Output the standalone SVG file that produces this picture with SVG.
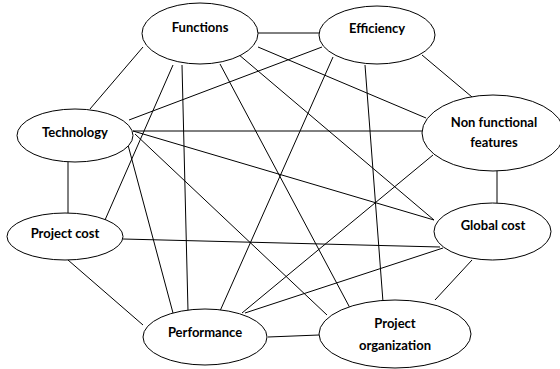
<svg xmlns="http://www.w3.org/2000/svg" width="560" height="369" viewBox="0 0 560 369">
<style>
.node ellipse{fill:#fff;stroke:#000;stroke-width:1}
.node text{font-family:Lato,"Liberation Sans",sans-serif;font-weight:bold;font-size:13px;text-anchor:middle;fill:#000}
#edges line{stroke:#000;stroke-width:1}
</style>
<rect width="560" height="369" fill="#fff"/>
<g id="edges">
<line x1="258" y1="33" x2="319" y2="33"/>
<line x1="143" y1="47" x2="90" y2="109"/>
<line x1="258" y1="47" x2="426" y2="118"/>
<line x1="238" y1="54" x2="434" y2="220"/>
<line x1="220" y1="64" x2="350" y2="308"/>
<line x1="173" y1="65" x2="105" y2="220"/>
<line x1="182" y1="65" x2="188" y2="311"/>
<line x1="129" y1="120" x2="322" y2="47"/>
<line x1="133" y1="131" x2="422" y2="131"/>
<line x1="133" y1="131" x2="434" y2="220"/>
<line x1="135" y1="134" x2="327" y2="315"/>
<line x1="128" y1="145" x2="173" y2="313"/>
<line x1="68" y1="162" x2="68" y2="213"/>
<line x1="422" y1="55" x2="472" y2="97"/>
<line x1="333" y1="57" x2="220" y2="311"/>
<line x1="365" y1="65" x2="383" y2="302"/>
<line x1="497" y1="170" x2="497" y2="203"/>
<line x1="433" y1="155" x2="242" y2="313"/>
<line x1="123" y1="239" x2="440" y2="247"/>
<line x1="245" y1="313" x2="443" y2="248"/>
<line x1="472" y1="260" x2="435" y2="300"/>
<line x1="268" y1="337" x2="319" y2="335"/>
<line x1="68" y1="260" x2="143" y2="325"/>
</g>
<g id="functions" class="node"><ellipse cx="200" cy="33.5" rx="58" ry="30.5"/><text x="200" y="32">Functions</text></g>
<g id="efficiency" class="node"><ellipse cx="377" cy="35" rx="58" ry="29"/><text x="377" y="33">Efficiency</text></g>
<g id="technology" class="node"><ellipse cx="75" cy="135.5" rx="58" ry="26.5"/><text x="75" y="137">Technology</text></g>
<g id="nonfunctional" class="node"><ellipse cx="493" cy="133" rx="71" ry="38"/><text x="494" y="127">Non functional</text><text x="494" y="147">features</text></g>
<g id="projectcost" class="node"><ellipse cx="65" cy="236.5" rx="58" ry="23.5"/><text x="65" y="238">Project cost</text></g>
<g id="globalcost" class="node"><ellipse cx="492.5" cy="231.5" rx="58.5" ry="28.5"/><text x="493" y="230">Global cost</text></g>
<g id="performance" class="node"><ellipse cx="205" cy="337" rx="62" ry="28"/><text x="205" y="337">Performance</text></g>
<g id="projectorganization" class="node"><ellipse cx="395" cy="334" rx="76" ry="34"/><text x="395" y="328">Project</text><text x="395" y="350">organization</text></g>
</svg>
